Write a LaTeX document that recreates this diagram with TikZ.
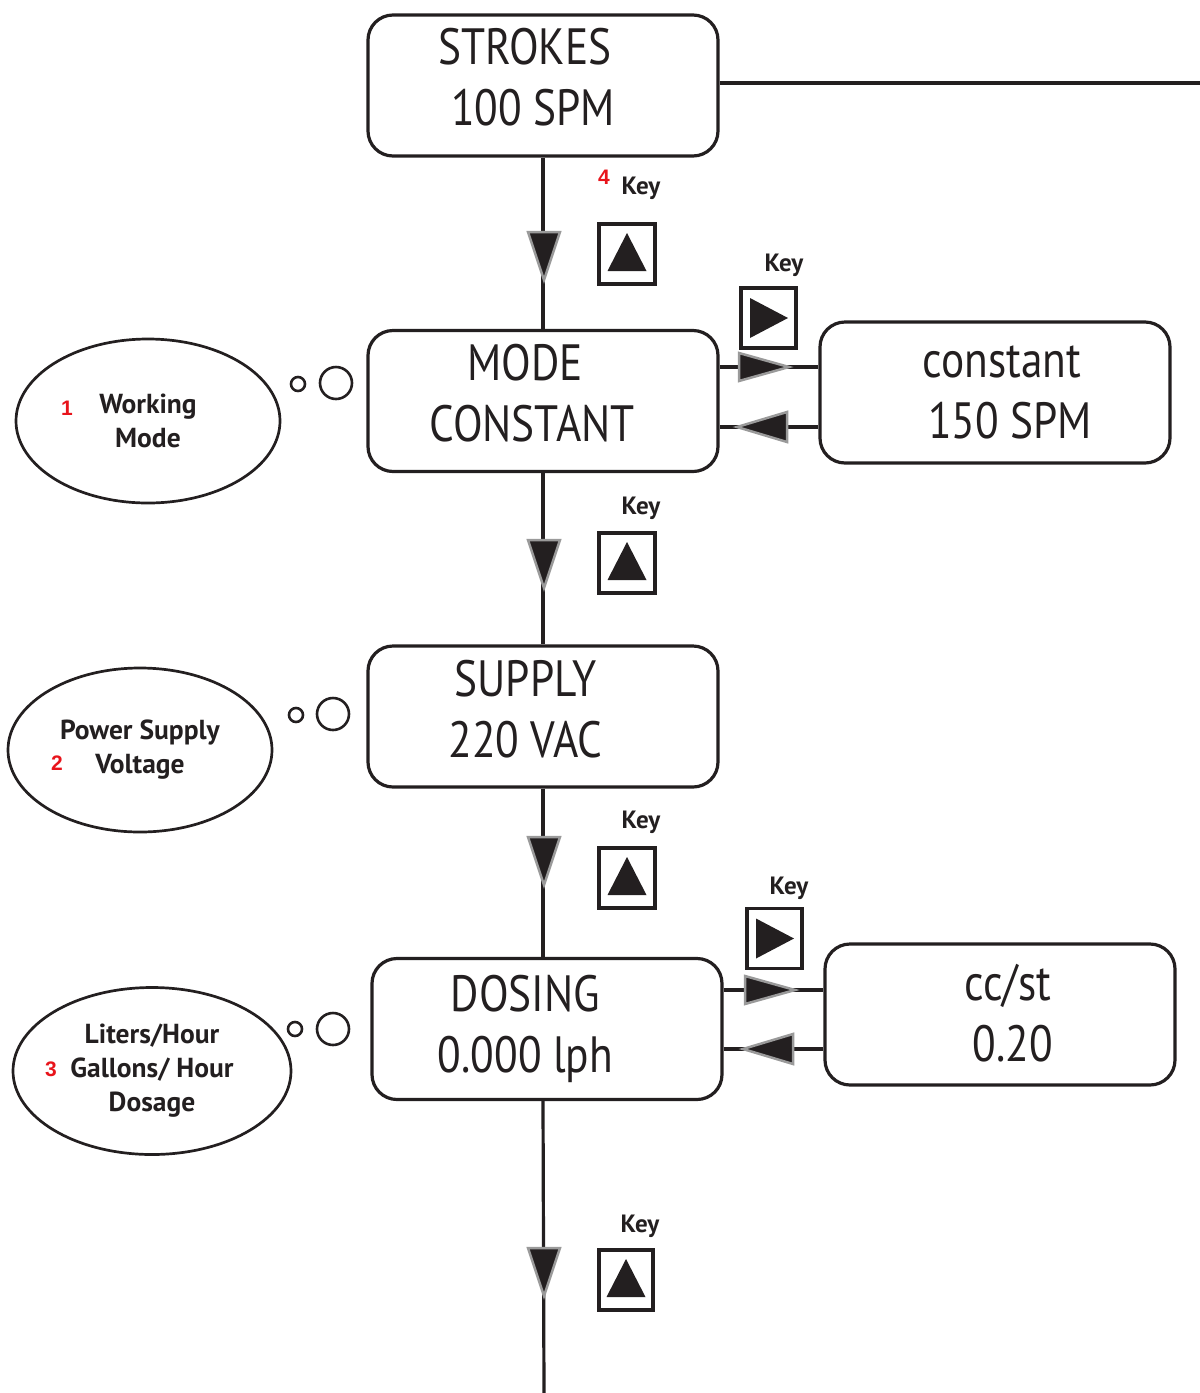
\documentclass[tikz,border=0pt]{standalone}
\usepackage{fontspec}
\setmainfont{PT Sans}
\newfontfamily\cond[FakeStretch=0.85]{PT Sans}
\newfontfamily\condb{PT Sans Bold}
\newfontfamily\numf{Liberation Sans Bold}
\usetikzlibrary{shapes.geometric,calc}
\definecolor{ink}{HTML}{231F20}
\definecolor{edge}{HTML}{9A9A9A}
\definecolor{numred}{HTML}{E8141B}
\tikzset{
  screen/.style={draw=ink, line width=3.2, rounded corners=25, minimum width=350, minimum height=141, inner sep=0},
  scrtext/.style={align=center, inner sep=0, text=ink, font=\cond\fontsize{51}{61}\selectfont},
  thought/.style={draw=ink, line width=2.7, ellipse, inner sep=0, align=center, text=ink,
    font=\condb\fontsize{27.5}{34}\selectfont},
  keybox/.style={draw=ink, line width=3.2, minimum width=56, minimum height=60, inner sep=0},
  keylbl/.style={text=ink, font=\condb\fontsize{25}{28}\selectfont, inner sep=0},
  numlbl/.style={text=numred, font=\numf\fontsize{21}{24}\selectfont, inner sep=0},
  bub/.style={draw=ink, line width=2.6, circle, inner sep=0},
  conn/.style={draw=ink, line width=3.2},
  darr/.pic={\filldraw[draw=edge, fill=ink, line width=2.5, line join=miter] (-16,-24) -- (16,-24) -- (0,24) -- cycle;},
  rarr/.pic={\filldraw[draw=edge, fill=ink, line width=2.5, line join=miter] (-25,-14) -- (-25,14) -- (25,0) -- cycle;},
  larr/.pic={\filldraw[draw=edge, fill=ink, line width=2.5, line join=miter] (25,-15) -- (25,15) -- (-25,0) -- cycle;},
  utri/.pic={\fill[ink] (-19.5,17) -- (19.5,17) -- (0,-21) -- cycle;},
  rtri/.pic={\fill[ink] (-18.5,-20) -- (-18.5,20) -- (19.5,0) -- cycle;},
}
\begin{document}
\begin{tikzpicture}[x=1pt,y=-1pt]
\useasboundingbox (0,0) rectangle (1200,1393);

% screens
\node[screen] (strokes) at (543,85.5) {};
\node[screen] (mode) at (543,401) {};
\node[screen] (supply) at (543,716.5) {};
\node[screen] (dosing) at (547,1029) {};
\node[screen] (const) at (995,392.5) {};
\node[screen] (ccst) at (1000,1014.5) {};
\node[scrtext] (strokes-t) at (529,77.5) {\hspace*{-8pt}STROKES\\\hspace*{8pt}100 SPM};
\node[scrtext] (mode-t) at (528.5,393) {\hspace*{-7pt}MODE\\\hspace*{7pt}CONSTANT};
\node[scrtext] (supply-t) at (525.5,709) {SUPPLY\\220 VAC};
\node[scrtext] (dosing-t) at (525.5,1029) {DOSING\\0.000 lph};
\node[scrtext] (const-t) at (1006,392) {\hspace*{-8pt}constant\\\hspace*{8pt}150 SPM};
\node[scrtext] (ccst-t) at (1010.5,1013) {\hspace*{-5pt}cc/st\\\hspace*{5pt}0.20};

% thoughts
\node[thought, minimum width=264, minimum height=164] (t1) at (148,421) {Working\\Mode};
\node[thought, minimum width=264, minimum height=164] (t2) at (140,750) {Power Supply\\Voltage};
\node[thought, minimum width=278, minimum height=167] (t3) at (152,1071) {Liters/Hour\\Gallons/ Hour\\Dosage};
\node[numlbl] (n1) at (67,408) {1};
\node[numlbl] (n2) at (57,763) {2};
\node[numlbl] (n3) at (51,1069) {3};
\node[numlbl] (n4) at (604,177) {4};

% bubbles
\node[bub, minimum size=14] (b1s) at (298,384) {};
\node[bub, minimum size=32] (b1b) at (336,383) {};
\node[bub, minimum size=14] (b2s) at (296,715) {};
\node[bub, minimum size=32] (b2b) at (333,714) {};
\node[bub, minimum size=14] (b3s) at (295,1029) {};
\node[bub, minimum size=32] (b3b) at (333,1029) {};

% vertical connectors
\coordinate (right) at (1200,83);
\coordinate (bottom) at (544,1393);
\draw[conn] (strokes.east |- right) -- (right);
\draw[conn] (strokes.south) -- (mode.north);
\draw[conn] (mode.south) -- (supply.north);
\draw[conn] (supply.south) -- (supply.south |- dosing.north);
\draw[conn] (supply.south |- dosing.south) -- (bottom);
\pic at (544,256) {darr};
\pic at (544,564) {darr};
\pic at (544,861) {darr};
\pic at (544,1272) {darr};

% horizontal connectors
\draw[conn] ([yshift=34pt]mode.east) -- ([yshift=34pt]mode.east -| const.west);
\draw[conn] ([yshift=-26pt]mode.east) -- ([yshift=-26pt]mode.east -| const.west);
\pic at (764,367) {rarr};
\pic at (762,427) {larr};
\draw[conn] ([yshift=39pt]dosing.east) -- ([yshift=39pt]dosing.east -| ccst.west);
\draw[conn] ([yshift=-20pt]dosing.east) -- ([yshift=-20pt]dosing.east -| ccst.west);
\pic at (770,990) {rarr};
\pic at (768,1049) {larr};

% keys
\node[keylbl] (kl1) at (641,188) {Key};
\node[keybox] (k1) at (627,254) {};
\pic at (k1) {utri};
\node[keylbl] (kl2) at (641,508) {Key};
\node[keybox] (k2) at (627,563) {};
\pic at (k2) {utri};
\node[keylbl] (kl3) at (641,822) {Key};
\node[keybox] (k3) at (627,878) {};
\pic at (k3) {utri};
\node[keylbl] (kl4) at (640,1226) {Key};
\node[keybox, minimum width=54] (k4) at (626,1280) {};
\pic at (k4) {utri};
\node[keylbl] (kl5) at (784,265) {Key};
\node[keybox, minimum width=55] (k5) at (768.5,318) {};
\pic at (k5) {rtri};
\node[keylbl] (kl6) at (789,888) {Key};
\node[keybox, minimum width=55] (k6) at (774.5,938.5) {};
\pic at (k6) {rtri};
\end{tikzpicture}
\end{document}
